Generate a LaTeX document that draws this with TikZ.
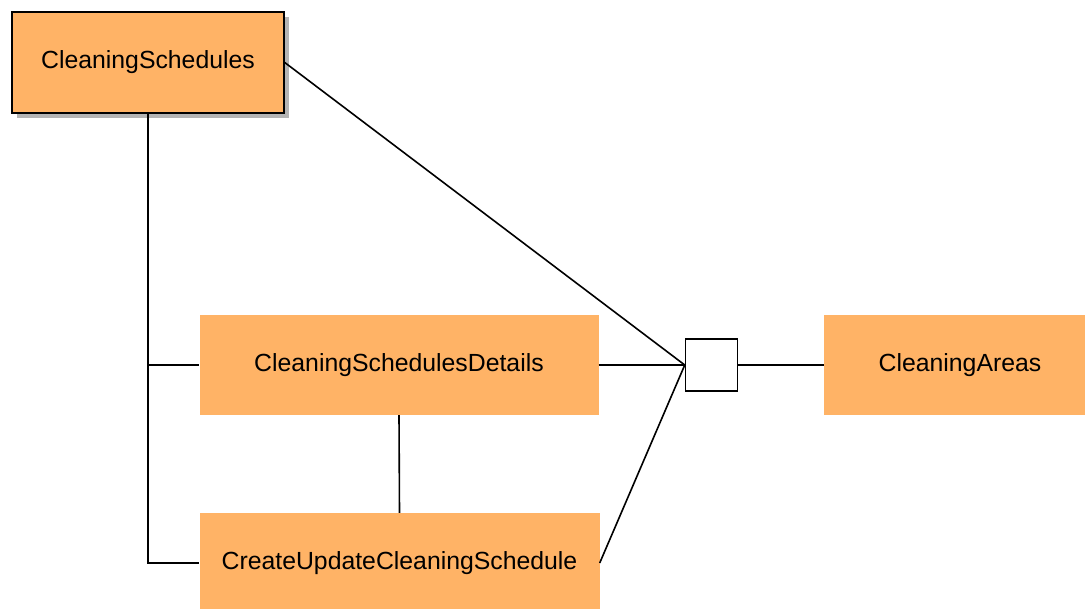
\documentclass[tikz,border=0pt]{standalone}
\usepackage{fontspec}
\setmainfont{Liberation Sans}
\usetikzlibrary{shadows}
\definecolor{boxfill}{HTML}{FFB366}
\definecolor{shadowgray}{HTML}{B4B4B4}
\tikzset{
  entity/.style={fill=boxfill, draw=none, inner sep=0pt, font=\fontsize{24.8}{28}\selectfont},
  mainentity/.style={entity, draw=black, line width=1.5pt,
    drop shadow={shadow xshift=5pt, shadow yshift=-5pt, fill=shadowgray, opacity=1}},
  junction/.style={draw=black, fill=white, line width=1.5pt, minimum width=52pt, minimum height=52pt, inner sep=0pt},
  link/.style={draw=black, line width=1.6pt}
}
\begin{document}
\begin{tikzpicture}[x=1pt,y=-1pt]
  \useasboundingbox[fill=white] (0,0) rectangle (1085,609);
  % entities
  \node[mainentity, minimum width=272pt, minimum height=101pt] (cs) at (148,62.5) {CleaningSchedules};
  \node[entity, minimum width=399pt, minimum height=100pt] (csd) at (399,365) {CleaningSchedulesDetails};
  \node[entity, minimum width=400pt, minimum height=100pt] (cucs) at (399.5,563) {CreateUpdateCleaningSchedule};
  \node[entity, minimum width=272pt, minimum height=100pt] (ca) at (960,365) {CleaningAreas};
  \node[junction] (j) at (711.5,365) {};
  % connectors
  \draw[link] (cs.south) |- (cucs.west);
  \draw[link] (cs.south |- csd.west) -- (csd.west);
  \draw[link] (csd.south) -- (cucs.north);
  \draw[link] (cs.east) -- (j.west);
  \draw[link] (csd.east) -- (j.west);
  \draw[link] (cucs.east) -- (j.west);
  \draw[link] (j.east) -- (ca.west);
\end{tikzpicture}
\end{document}
